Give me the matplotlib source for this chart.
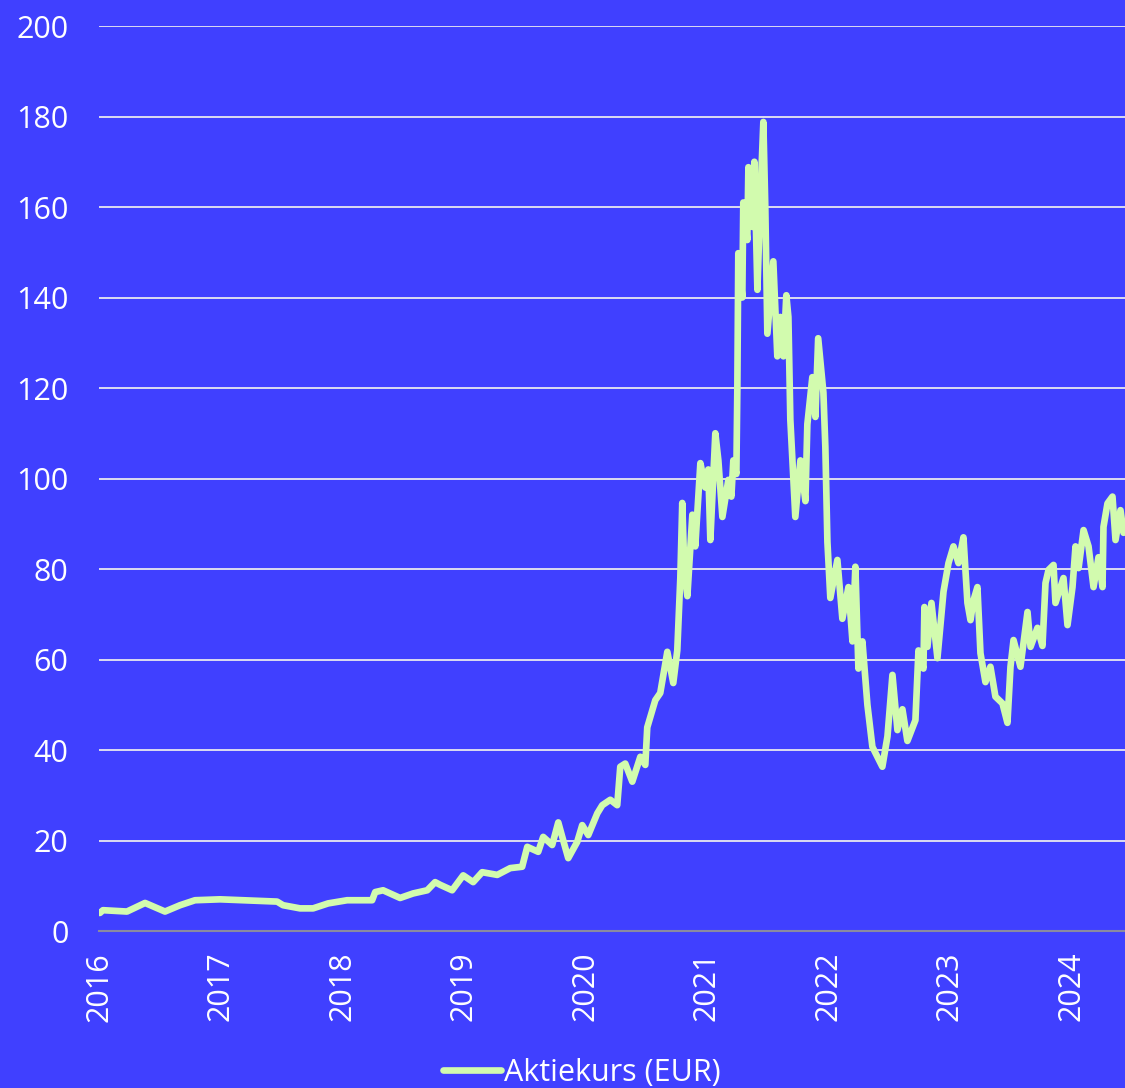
import matplotlib
matplotlib.use("Agg")
import matplotlib.pyplot as plt

# share price (decimal years, EUR)
years = [
    2016.000, 2016.008, 2016.033, 2016.230, 2016.379, 2016.543, 2016.667, 2016.790,
    2016.996, 2017.465, 2017.514, 2017.654, 2017.761, 2017.885, 2018.041, 2018.247,
    2018.272, 2018.337, 2018.477, 2018.584, 2018.700, 2018.765, 2018.807, 2018.905,
    2018.996, 2019.078, 2019.152, 2019.276, 2019.383, 2019.481, 2019.523, 2019.613,
    2019.654, 2019.728, 2019.778, 2019.819, 2019.860, 2019.934, 2019.975, 2020.025,
    2020.099, 2020.140, 2020.206, 2020.263, 2020.288, 2020.329, 2020.387, 2020.453,
    2020.494, 2020.510, 2020.576, 2020.617, 2020.675, 2020.724, 2020.757, 2020.782,
    2020.798, 2020.815, 2020.840, 2020.881, 2020.905, 2020.947, 2020.988, 2021.012,
    2021.029, 2021.070, 2021.095, 2021.128, 2021.177, 2021.202, 2021.218, 2021.243,
    2021.251, 2021.259, 2021.292, 2021.300, 2021.333, 2021.342, 2021.374, 2021.391,
    2021.416, 2021.440, 2021.465, 2021.481, 2021.498, 2021.547, 2021.580, 2021.605,
    2021.630, 2021.654, 2021.671, 2021.687, 2021.728, 2021.770, 2021.811, 2021.827,
    2021.868, 2021.893, 2021.916, 2021.959, 2021.975, 2021.992, 2022.016, 2022.074,
    2022.115, 2022.165, 2022.198, 2022.222, 2022.247, 2022.280, 2022.321, 2022.362,
    2022.444, 2022.486, 2022.527, 2022.568, 2022.609, 2022.650, 2022.716, 2022.741,
    2022.782, 2022.790, 2022.815, 2022.848, 2022.897, 2022.947, 2022.988, 2023.029,
    2023.070, 2023.111, 2023.144, 2023.169, 2023.193, 2023.226, 2023.251, 2023.292,
    2023.333, 2023.374, 2023.432, 2023.473, 2023.498, 2023.523, 2023.580, 2023.638,
    2023.663, 2023.720, 2023.761, 2023.786, 2023.811, 2023.852, 2023.868, 2023.934,
    2023.967, 2024.008, 2024.033, 2024.058, 2024.099, 2024.140, 2024.181, 2024.222,
    2024.255, 2024.263, 2024.296, 2024.337, 2024.362, 2024.403, 2024.428, 2024.450,
]
price = [
    4.0, 4.0, 4.6, 4.3, 6.2, 4.3, 5.7, 6.8,
    7.0, 6.5, 5.7, 5.0, 5.0, 6.1, 6.8, 6.8,
    8.6, 9.0, 7.3, 8.3, 9.0, 10.8, 10.2, 9.0,
    12.3, 10.8, 13.0, 12.4, 13.9, 14.2, 18.6, 17.5,
    20.8, 19.0, 24.0, 20.0, 16.1, 19.7, 23.4, 21.2,
    26.0, 27.8, 29.0, 27.8, 36.3, 37.0, 33.0, 38.5,
    36.7, 45.0, 51.0, 52.6, 61.7, 54.8, 62.0, 78.0,
    94.6, 80.0, 74.0, 92.0, 85.0, 103.4, 98.0, 102.0,
    86.4, 110.0, 104.0, 91.5, 99.7, 96.0, 104.0, 101.0,
    119.6, 149.8, 140.0, 161.0, 152.7, 168.8, 155.6, 170.0,
    141.7, 161.5, 178.8, 160.0, 132.0, 148.0, 127.0, 135.7,
    127.0, 140.5, 135.7, 113.0, 91.5, 104.0, 95.0, 112.0,
    122.4, 113.6, 131.0, 119.0, 107.0, 86.0, 73.6, 82.0,
    69.0, 76.0, 64.0, 80.5, 58.0, 64.0, 50.0, 40.7,
    36.3, 43.0, 56.6, 44.4, 49.0, 42.0, 46.6, 62.0,
    58.0, 71.6, 62.8, 72.5, 60.3, 75.0, 81.3, 85.0,
    81.3, 87.0, 72.5, 68.7, 73.0, 76.0, 61.4, 55.0,
    58.4, 51.8, 50.3, 46.0, 58.4, 64.3, 58.4, 70.5,
    62.8, 67.0, 63.0, 76.9, 79.8, 80.9, 72.5, 78.0,
    67.6, 76.0, 85.0, 80.2, 88.6, 85.0, 76.0, 82.6,
    76.0, 89.3, 94.5, 96.0, 86.4, 93.0, 88.0, 90.0,
]
year_ticks = list(range(2016, 2025))
y_ticks = list(range(0, 201, 20))

BG = "#4040ff"
LINE = "#d2fbae"

plt.rcParams['font.family'] = ['Open Sans', 'DejaVu Sans']

fig = plt.figure(figsize=(11.25, 10.88), dpi=100, facecolor=BG)
ax = fig.add_axes([0.088, 0.1443, 0.912, 0.8318])
ax.set_facecolor(BG)

ax.plot(years, price, color=LINE, lw=4.8, solid_joinstyle="round",
        solid_capstyle="round", label="Aktiekurs (EUR)", zorder=3)

ax.set_xlim(2016, 2024.44)
ax.set_ylim(0, 200)
ax.set_yticks(y_ticks)
ax.set_xticks(year_ticks)
ax.set_xticklabels([str(y) for y in year_ticks], rotation=90)

ax.grid(axis="y", color="#e8e8f0", lw=1.3)
ax.grid(axis="x", visible=False)
for side in ["top", "right", "left"]:
    ax.spines[side].set_visible(False)
ax.spines["bottom"].set_color("#8a8aa0")
ax.spines["bottom"].set_linewidth(1.5)
ax.tick_params(axis="both", length=0, colors="white", labelsize=22)
ax.tick_params(axis="y", pad=22)
ax.tick_params(axis="x", pad=15)

fig.legend(loc="center", bbox_to_anchor=(0.517, 0.014), frameon=False,
           fontsize=22, labelcolor="white", handlelength=1.9,
           handletextpad=0.1)

fig.savefig("out.png", dpi=100, facecolor=BG)
